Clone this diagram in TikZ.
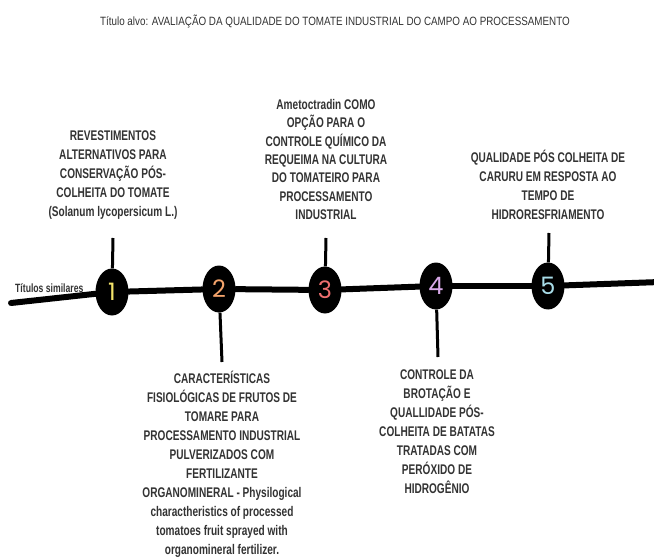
\documentclass[tikz,border=0pt]{standalone}
\usepackage{fontspec}
\setmainfont{Liberation Sans}[FakeStretch=0.72]
\newfontfamily\titlefont{Liberation Sans}[FakeStretch=0.82]
\newfontfamily\numfont{Poppins}
\usetikzlibrary{shapes.geometric}

\definecolor{txtgray}{HTML}{333333}
\definecolor{numyellow}{HTML}{F3E36A}
\definecolor{numorange}{HTML}{F4A46C}
\definecolor{numred}{HTML}{EF6F6F}
\definecolor{numlilac}{HTML}{D8A8E8}
\definecolor{numblue}{HTML}{A8DCE8}

\tikzset{
    titulo/.style={text=txtgray,align=center,font=\bfseries\fontsize{14}{19}\selectfont,inner sep=0pt},
    marco/.style={ellipse,fill=black,minimum width=33pt,minimum height=47pt,inner sep=0pt,font=\numfont\fontsize{24}{24}\selectfont},
    linha/.style={line width=6pt,line cap=round},
    haste/.style={line width=3pt}
}

\begin{document}
\begin{tikzpicture}[x=1pt,y=-1pt]
    \useasboundingbox[fill=white] (0,0) rectangle (654,559);
    % Titulo alvo
    \node[text=txtgray,font=\titlefont\fontsize{12}{14}\selectfont,inner sep=0pt] (alvo) at (335,22) {T\'itulo alvo: AVALIA\c{C}\~AO DA QUALIDADE DO TOMATE INDUSTRIAL DO CAMPO AO PROCESSAMENTO};

    % Marcos da linha do tempo
    \node[marco,text=numyellow] (m1) at (112,292) {1};
    \node[marco,text=numorange] (m2) at (219,289) {2};
    \node[marco,text=numred] (m3) at (325,290) {3};
    \node[marco,text=numlilac] (m4) at (436,286) {4};
    \node[marco,text=numblue] (m5) at (548,286) {5};

    % Linha principal
    \coordinate (ini) at (11,303);
    \coordinate (fim) at (660,282);
    \draw[linha] (ini) -- (m1);
    \draw[linha] (m1) -- (m2);
    \draw[linha] (m2) -- (m3);
    \draw[linha] (m3) -- (m4);
    \draw[linha] (m4) -- (m5);
    \draw[linha] (m5) -- (fim);
    \node[text=txtgray,font=\bfseries\fontsize{12}{13}\selectfont,inner sep=0pt,anchor=west] (similares) at (15,288) {T\'itulos similares};

    % Hastes
    \coordinate (h1) at (113,238);
    \coordinate (h2) at (222,362);
    \coordinate (h3) at (326,238);
    \coordinate (h4) at (438,357);
    \coordinate (h5) at (549,233);
    \draw[haste] (m1) -- (h1);
    \draw[haste] (m2) -- (h2);
    \draw[haste] (m3) -- (h3);
    \draw[haste] (m4) -- (h4);
    \draw[haste] (m5) -- (h5);

    % Titulos acima
    \node[titulo,anchor=south] (t1) at (113,220) {REVESTIMENTOS\\ALTERNATIVOS PARA\\CONSERVA\c{C}\~AO P\'OS-\\COLHEITA DO TOMATE\\(Solanum lycopersicum L.)};
    \node[titulo,anchor=south,font=\bfseries\fontsize{14}{18.4}\selectfont] (t3) at (326,220) {Ametoctradin COMO\\OP\c{C}\~AO PARA O\\CONTROLE QU\'IMICO DA\\REQUEIMA NA CULTURA\\DO TOMATEIRO PARA\\PROCESSAMENTO\\INDUSTRIAL};
    \node[titulo,anchor=south] (t5) at (548,220) {QUALIDADE P\'OS COLHEITA DE\\CARURU EM RESPOSTA AO\\TEMPO DE\\HIDRORESFRIAMENTO};

    % Titulos abaixo
    \node[titulo,anchor=north] (t2) at (222,371) {CARACTER\'ISTICAS\\FISIOL\'OGICAS DE FRUTOS DE\\TOMARE PARA\\PROCESSAMENTO INDUSTRIAL\\PULVERIZADOS COM\\FERTILIZANTE\\ORGANOMINERAL - Physilogical\\charactheristics of processed\\tomatoes fruit sprayed with\\organomineral fertilizer.};
    \node[titulo,anchor=north] (t4) at (437,370) {CONTROLE DA\\BROTA\c{C}\~AO E\\QUALLIDADE P\'OS-\\COLHEITA DE BATATAS\\TRATADAS COM\\PER\'OXIDO DE\\HIDROG\^ENIO};
\end{tikzpicture}
\end{document}
